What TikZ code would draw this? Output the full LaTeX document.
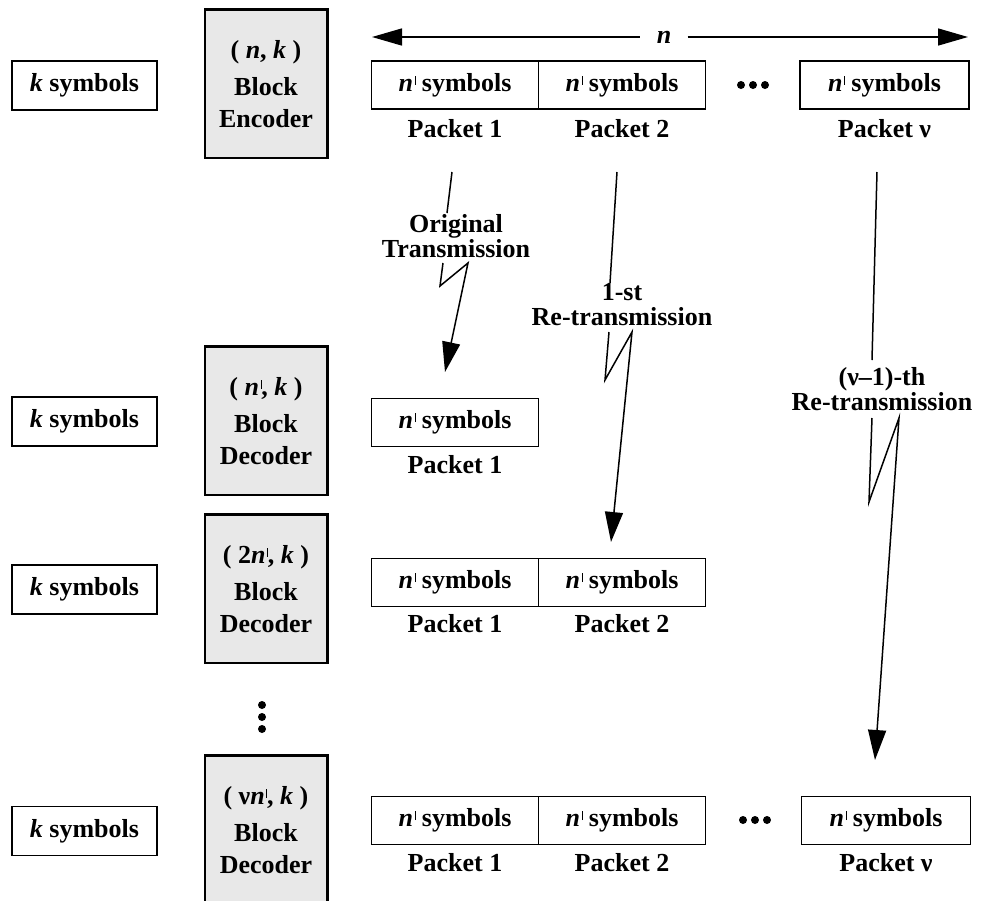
\documentclass[tikz,border=0pt]{standalone}
\usepackage{fontspec}
\setmainfont{Liberation Serif}
\usetikzlibrary{arrows.meta}
% bold italic symbols and the barred prime used for n
\newcommand{\nit}{\textit{n}}
\newcommand{\kit}{\textit{k}}
\newcommand{\nbar}{\textit{n}\kern0.8pt\raisebox{0.55ex}{\rule{0.4pt}{0.75ex}}}

\begin{document}
\begin{tikzpicture}[x=0.5pt,y=-0.5pt,
  every node/.style={font=\fontsize{13}{13}\selectfont\bfseries, inner sep=0pt},
  symbox/.style={draw, line width=0.9pt, minimum width=72.5pt, minimum height=24.5pt},
  coder/.style={draw, fill=black!9, line width=0.55pt, minimum width=61pt,
    minimum height=74pt, align=center, font=\fontsize{13}{16}\selectfont\bfseries},
  pkt/.style={draw, line width=0.8pt, minimum width=83.5pt, minimum height=24pt},
  pktv/.style={pkt, minimum width=84.5pt},
  linklabel/.style={align=center, font=\fontsize{13}{12.5}\selectfont\bfseries},
  link/.style={line width=0.75pt},
  tip/.style={-{Triangle[length=15pt,width=9pt]}},
  dot/.style={circle, fill, minimum size=4pt}
]
\clip (0,0) rectangle (982,901);

% ---------- encoder row ----------
\node[symbox] (k1) at (84.5,85.5) {\kit{} symbols};
\node[coder] (enc) at (266,84) {( \nit, \kit{} )\\[2.5pt] Block\\ Encoder};

\coordinate (nl) at (372,37);
\coordinate (nr) at (968,37);
\node[inner xsep=8pt] (nlab) at (664,37) {\nit};
\draw[link, {Triangle[length=15pt,width=8.5pt]}-] (nl) -- (nlab.west);
\draw[link, -{Triangle[length=15pt,width=8.5pt]}] (nlab.east) -- (nr);

\node[pkt] (a1) at (455,85) {\nbar{} symbols};
\node[pkt] (a2) at (622,85) {\nbar{} symbols};
\node[pktv] (av) at (884.5,85) {\nbar{} symbols};
\node (la1) at (455,129) {Packet 1};
\node (la2) at (622,129) {Packet 2};
\node (lav) at (884.5,129) {Packet ν};
\node[dot] (ad1) at (741,85) {};
\node[dot] (ad2) at (753,85) {};
\node[dot] (ad3) at (765,85) {};

% ---------- first decoder row ----------
\node[symbox] (k2) at (84.5,421.5) {\kit{} symbols};
\node[coder] (dec1) at (266,421) {( \nbar, \kit{} )\\[2.5pt] Block\\ Decoder};
\node[pkt] (b1) at (455,422.5) {\nbar{} symbols};
\node (lb1) at (455,465) {Packet 1};

% ---------- second decoder row ----------
\node[symbox] (k3) at (84.5,589.5) {\kit{} symbols};
\node[coder] (dec2) at (266,589) {( 2\nbar, \kit{} )\\[2.5pt] Block\\ Decoder};
\node[pkt] (c1) at (455,582.5) {\nbar{} symbols};
\node[pkt] (c2) at (622,582.5) {\nbar{} symbols};
\node (lc1) at (455,624) {Packet 1};
\node (lc2) at (622,624) {Packet 2};

% vertical ellipsis between decoders
\node[dot] (vd1) at (262,705) {};
\node[dot] (vd2) at (262,717) {};
\node[dot] (vd3) at (262,729) {};

% ---------- last decoder row ----------
\node[symbox] (k4) at (84.5,831) {\kit{} symbols};
\node[coder] (dec3) at (266,830) {( ν\nbar, \kit{} )\\[2.5pt] Block\\ Decoder};
\node[pkt] (e1) at (455,820.5) {\nbar{} symbols};
\node[pkt] (e2) at (622,820.5) {\nbar{} symbols};
\node[pktv] (ev) at (886,820.5) {\nbar{} symbols};
\node (le1) at (455,863) {Packet 1};
\node (le2) at (622,863) {Packet 2};
\node (lev) at (886,863) {Packet ν};
\node[dot] (ed1) at (743,820) {};
\node[dot] (ed2) at (755,820) {};
\node[dot] (ed3) at (767,820) {};

% heavy top and right edges on the coder boxes
\foreach \b in {enc,dec1,dec2,dec3}
  \draw[line width=1.7pt] (\b.north west) -- (\b.north east) -- (\b.south east);

% ---------- transmission links ----------
% original transmission
\coordinate (o1) at (452,172);
\coordinate (o2) at (447,213);
\node[linklabel] (lo) at (456,236.5) {Original\\Transmission};
\coordinate (o3) at (443,263);
\coordinate (o4) at (440,286);
\coordinate (o5) at (468,263);
\coordinate (o6) at (445,372);
\draw[link] (o1) -- (o2);
\draw[link, tip] (o3) -- (o4) -- (o5) -- (o6);

% first re-transmission
\coordinate (r1) at (617,172);
\coordinate (r2) at (610,283);
\node[linklabel] (lr) at (622,305) {1-st\\Re-transmission};
\coordinate (r3) at (609,332);
\coordinate (r4) at (605,380);
\coordinate (r5) at (632,332);
\coordinate (r6) at (611,542);
\draw[link] (r1) -- (r2);
\draw[link, tip] (r3) -- (r4) -- (r5) -- (r6);

% (nu-1)-th re-transmission
\coordinate (v1) at (877,172);
\coordinate (v2) at (872,360);
\node[linklabel] (lv) at (882,389) {(ν–1)-th\\Re-transmission};
\coordinate (v3) at (872,418);
\coordinate (v4) at (869,502);
\coordinate (v5) at (899,418);
\coordinate (v6) at (875,760);
\draw[link] (v1) -- (v2);
\draw[link, tip] (v3) -- (v4) -- (v5) -- (v6);
\end{tikzpicture}
\end{document}
